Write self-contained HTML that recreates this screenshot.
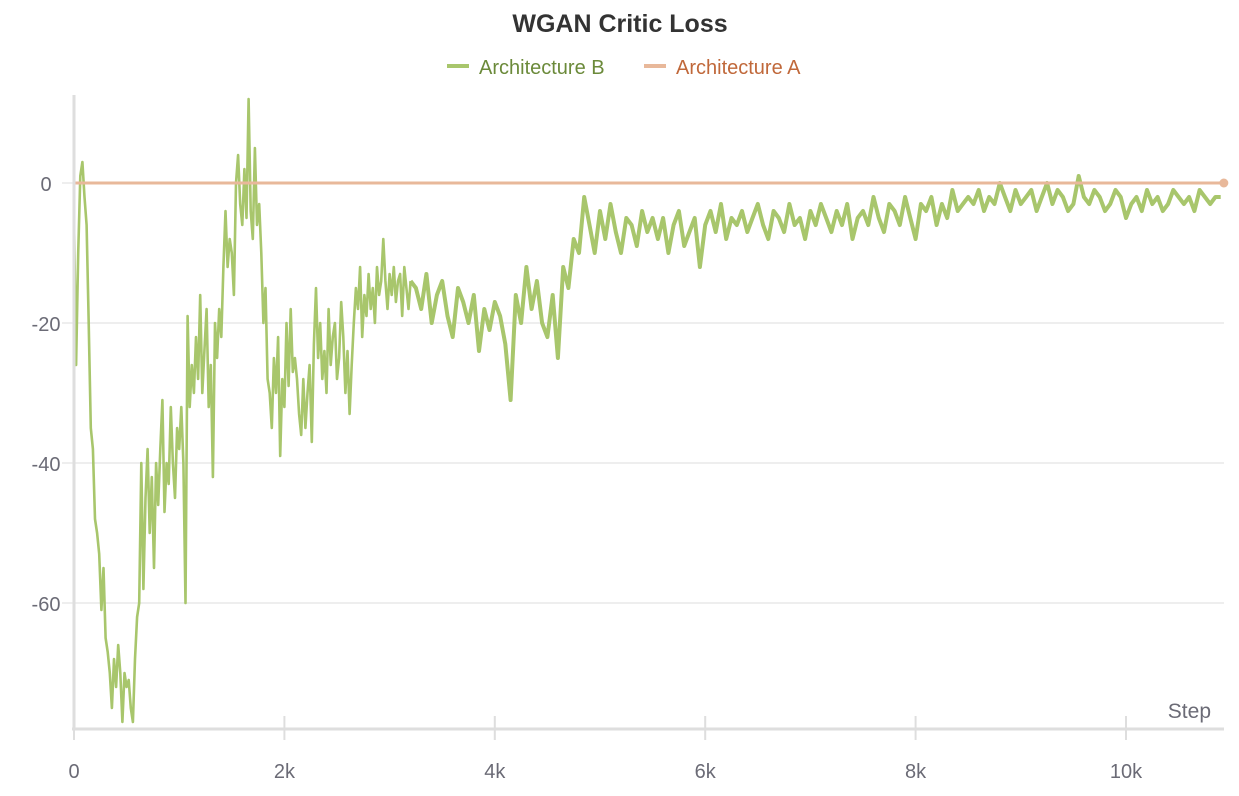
<!DOCTYPE html>
<html><head><meta charset="utf-8"><style>
body{margin:0;background:#fff;font-family:"Liberation Sans",sans-serif;}
svg text{font-family:"Liberation Sans",sans-serif;}
</style></head><body>
<svg id="chart" width="1239" height="791" xmlns="http://www.w3.org/2000/svg">
<text x="620" y="32" text-anchor="middle" font-size="25" font-weight="bold" fill="#333">WGAN Critic Loss</text>
<g>
<line x1="447" y1="66" x2="469" y2="66" stroke="#a8c66c" stroke-width="4"/>
<text x="479" y="74" font-size="20" fill="#6b8a3a">Architecture B</text>
<line x1="644" y1="66" x2="666" y2="66" stroke="#e8b89a" stroke-width="4"/>
<text x="676" y="74" font-size="20" fill="#c0683a">Architecture A</text>
</g>
<g id="grid"></g>
<g id="series"></g>
<g id="axes"></g>
</svg>
<script>
const xTicks=[0,2000,4000,6000,8000,10000];
const xTickLabels=["0","2k","4k","6k","8k","10k"];
const yTicks=[0,-20,-40,-60];
const yTickLabels=["0","-20","-40","-60"];
const earlyValues=[-5,-26,-10,1,3,-2,-6,-20,-35,-38,-48,-50,-53,-61,-55,-65,-67,-70,-75,-68,-72,-66,-70,-77,-70,-72,-71,-75,-77,-68,-62,-60,-40,-58,-45,-38,-50,-42,-55,-40,-46,-38,-31,-47,-40,-43,-32,-40,-45,-35,-38,-32,-40,-60,-19,-32,-26,-30,-22,-28,-16,-30,-24,-18,-32,-26,-42,-20,-25,-18,-22,-12,-4,-12,-8,-10,-16,0,4,-3,-6,2,-5,12,-4,-8,5,-6,-3,-10,-20,-15,-28,-30,-35,-25,-30,-22,-39,-28,-32,-20,-29,-18,-27,-25,-28,-33,-36,-28,-35,-30,-26,-37,-23,-15,-25,-20,-28,-24,-30,-18,-26,-22,-20,-28,-25,-17,-22,-30,-24,-33,-26,-20,-15,-18,-12,-22,-16,-19,-13,-18,-15,-20,-12,-16,-14,-8,-14,-18,-13,-16,-12,-17,-14,-13,-19,-12,-15,-18,-14];
const lateValues=[-15,-18,-13,-20,-16,-14,-19,-22,-15,-17,-20,-16,-24,-18,-21,-17,
-19,-23,-31,-16,-20,-12,-18,-14,-20,-22,-16,-25,-12,-15,-8,-10,
-2,-6,-10,-4,-8,-3,-7,-10,-5,-6,-9,-4,-7,-5,
-8,-5,-10,-6,-4,-9,-7,-5,-12,-6,-4,-7,-3,-8,-5,-6,-4,-7,-5,-3,-6,-8,-4,-5,-7,-3,-6,-5,-8,-4,
-6,-3,-5,-7,-4,-6,-3,-8,-5,-4,-6,-2,-5,-7,-3,-4,-6,-2,-5,-8,-3,-4,-2,-6,-3,-5,-1,-4,-3,-2,
-3,-1,-4,-2,-3,0,-2,-4,-1,-3,-2,-1,-4,-2,0,-3,-1,-2,-4,-3,1,-2,-3,-1,-2,-4,-3,-1,-2,-5,-3,-2,-4,-1,-3,-2,-4,-3,-1,-2,-3,-2,-4,-1,-2,-3,-2,-2];
const archAValues=[0,0];
const archASteps=[0,10930];

const X0=74,PXK=105.2/1000,Y0=183,PYU=7;
const xs=s=>X0+s*PXK, ys=v=>Y0-v*PYU;
const NS="http://www.w3.org/2000/svg";
function mk(t,a,p){const e=document.createElementNS(NS,t);for(const k in a)e.setAttribute(k,a[k]);p.appendChild(e);return e;}
const grid=document.getElementById('grid'),axes=document.getElementById('axes'),ser=document.getElementById('series');
yTicks.forEach((v,i)=>{
 const l=mk('line',{x1:62,x2:1224,y1:ys(v),y2:ys(v),stroke:'#e8e8e8','stroke-width':1.5},grid);
 
 
 const t=mk('text',{x:46,y:ys(v)+8,'text-anchor':'middle','font-size':20,fill:'#6b6b76'},axes);
 t.textContent=yTickLabels[i];
 
 
});
const early=[],late=[];
earlyValues.forEach((v,i)=>early.push([i*20,v]));
late.push(early[early.length-1]);
lateValues.forEach((v,i)=>late.push([3250+i*50,v]));
const toPts=a=>a.map(p=>xs(p[0]).toFixed(1)+','+ys(p[1]).toFixed(1)).join(' ');
const pb=mk('polyline',{points:toPts(early),fill:'none',stroke:'#a8c66c','stroke-width':2.6,'stroke-linejoin':'round'},ser);


const pl=mk('polyline',{points:toPts(late),fill:'none',stroke:'#a8c66c','stroke-width':4,'stroke-linejoin':'round'},ser);


const pa=mk('polyline',{points:archASteps.map((s,i)=>xs(s)+','+ys(archAValues[i])).join(' '),fill:'none',stroke:'#e8b89a','stroke-width':3},ser);


const dot=mk('circle',{cx:xs(archASteps[1]),cy:ys(archAValues[1]),r:4.5,fill:'#e8b89a'},ser);


const ya=mk('line',{x1:74,x2:74,y1:95,y2:729,stroke:'#dedede','stroke-width':3},axes);


const xa=mk('line',{x1:72,x2:1224,y1:729,y2:729,stroke:'#dedede','stroke-width':3},axes);


xTicks.forEach((s,i)=>{
 const tk=mk('line',{x1:xs(s),x2:xs(s),y1:716,y2:740,stroke:'#dedede','stroke-width':2},axes);
 
 
 const t=mk('text',{x:xs(s),y:778,'text-anchor':'middle','font-size':20,fill:'#6b6b76'},axes);
 t.textContent=xTickLabels[i];
 
 
});
const st=mk('text',{x:1211,y:718,'text-anchor':'end','font-size':21,fill:'#6b6b76'},axes);
st.textContent='Step';


</script>
</body></html>
